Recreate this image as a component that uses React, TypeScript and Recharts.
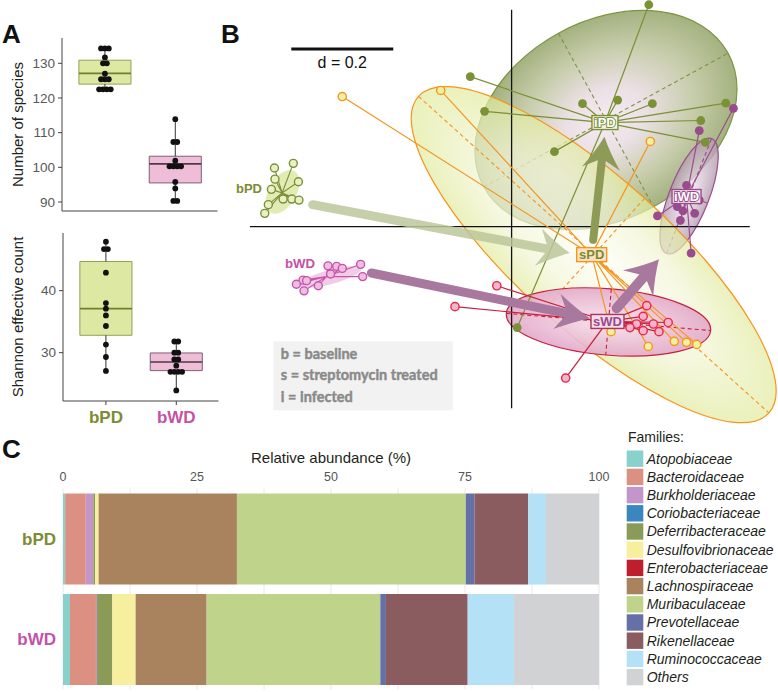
import React from 'react';
import {
  ComposedChart, ScatterChart, BarChart, Bar, Scatter, XAxis, YAxis,
  ReferenceArea, ReferenceLine, CartesianGrid, Legend,
} from 'recharts';

const SANS = '"Liberation Sans", Arial, Helvetica, sans-serif';
const HUMAN = 'Lato, "Open Sans", sans-serif';

// ---------------- Panel A data ----------------
const groupNames = ['bPD', 'bWD'];
const groupColors = ['#7b8c32', '#c452a8'];
const speciesPD = [134.3, 134.3, 134.3, 131.7, 130, 130, 127, 125.4, 125.4, 125.4, 122.5, 122.5, 122.5, 122.5];
const speciesWD = [113.9, 107.3, 107.3, 101.9, 100.3, 100.3, 100.3, 100.3, 95.8, 93.9, 90.3, 90.3];
const speciesQ1 = [124, 95.5];
const speciesMedian = [127.1, 101];
const speciesQ3 = [130.9, 103.2];
const speciesMin = [122.5, 90.3];
const speciesMax = [134.3, 113.9];
const speciesTicks = [90, 100, 110, 120, 130];

const shannonPD = [47.9, 46.7, 46.7, 42.9, 38.0, 37.1, 36.0, 34.3, 31.3, 29.3, 27.05];
const shannonWD = [31.8, 31.8, 30, 30, 28.9, 28.9, 27.9, 26.9, 26.9, 26.9, 26.9, 23.9];
const shannonQ1 = [32.8, 27.1];
const shannonMedian = [37.1, 28.5];
const shannonQ3 = [44.7, 29.95];
const shannonMin = [27.05, 23.9];
const shannonMax = [47.9, 31.8];
const shannonTicks = [30, 40];

// ---------------- Panel B data (ordination units, d = 0.2 grid) ----------------
type Pt = [number, number];
const iPDCentroid: Pt = [0.183, 0.204];
const iPDPoints: Pt[] = [[0.269, 0.435], [0.139, 0.241], [0.208, 0.248], [0.276, 0.241], [0.420, 0.242], [0.371, 0.208], [0.380, 0.165], [0.084, 0.147], [-0.081, 0.294], [-0.053, 0.226], [0.011, -0.198]];
const iWDCentroid: Pt = [0.343, 0.059];
const iWDPoints: Pt[] = [[0.435, 0.232], [0.368, 0.188], [0.343, 0.081], [0.286, 0.021], [0.325, 0.039], [0.336, 0.031], [0.359, 0.026], [0.331, 0.012], [0.352, -0.052], [0.368, 0.052]];
const sPDCentroid: Pt = [0.157, -0.055];
const sPDPoints: Pt[] = [[-0.332, 0.255], [-0.139, 0.267], [0.272, 0.167], [0.195, -0.206], [0.268, -0.235], [0.319, -0.225], [0.343, -0.227], [0.363, -0.231]];
const sWDCentroid: Pt = [0.188, -0.186];
const sWDPoints: Pt[] = [[-0.029, -0.116], [-0.111, -0.157], [0.106, -0.297], [0.265, -0.155], [0.258, -0.176], [0.245, -0.191], [0.232, -0.198], [0.258, -0.204], [0.278, -0.191], [0.289, -0.206], [0.307, -0.188]];
const bPDCentroid: Pt = [-0.450, 0.066];
const bPDPoints: Pt[] = [[-0.465, 0.115], [-0.428, 0.124], [-0.464, 0.093], [-0.418, 0.088], [-0.471, 0.073], [-0.448, 0.054], [-0.431, 0.054], [-0.417, 0.052], [-0.477, 0.043], [-0.484, 0.026]];
const bWDCentroid: Pt = [-0.363, -0.098];
const bWDPoints: Pt[] = [[-0.360, -0.077], [-0.343, -0.078], [-0.332, -0.082], [-0.296, -0.074], [-0.292, -0.098], [-0.355, -0.093], [-0.409, -0.105], [-0.402, -0.106], [-0.422, -0.113], [-0.407, -0.126], [-0.379, -0.116]];

// ellipses: centre x, centre y, semi-major, semi-minor, angle (deg)
const iPDEllipse = [0.185, 0.209, 0.273, 0.194, 28.7];
const iWDEllipse = [0.348, 0.060, 0.121, 0.039, 68.6];
const sPDEllipse = [0.161, -0.055, 0.463, 0.149, -42.1];
const sWDEllipse = [0.190, -0.187, 0.201, 0.065, -4.8];
const bPDEllipse = [-0.449, 0.068, 0.047, 0.027, 60];
const bWDEllipse = [-0.356, -0.099, 0.063, 0.014, 15];

// arrows: from (x, y) to (x1, y1)
const arrowBPDtoSPD = [-0.390, 0.043, 0.114, -0.052];
const arrowBWDtoSWD = [-0.275, -0.091, 0.154, -0.180];
const arrowSPDtoIPD = [0.160, -0.026, 0.182, 0.176];
const arrowSWDtoIWD = [0.206, -0.160, 0.289, -0.064];

const axisVertical: Pt[] = [[0, 0.425], [0, -0.356]];
const axisHorizontal: Pt[] = [[-0.513, 0], [0.467, 0]];
const scaleBar: Pt[] = [[-0.432, 0.348], [-0.232, 0.348]];
const scaleBarLabel = 'd = 0.2';
const bLabelPD: Pt = [-0.515, 0.076];
const bLabelWD: Pt = [-0.415, -0.071];
const notesAnchor: Pt = [-0.467, -0.225];
const notes = ['b = baseline', 's = streptomycin treated', 'i = infected'];

// ---------------- Panel C data ----------------
const families = ['Atopobiaceae', 'Bacteroidaceae', 'Burkholderiaceae', 'Coriobacteriaceae', 'Deferribacteraceae', 'Desulfovibrionaceae', 'Enterobacteriaceae', 'Lachnospiraceae', 'Muribaculaceae', 'Prevotellaceae', 'Rikenellaceae', 'Ruminococcaceae', 'Others'];
const familyColors = ['#88d1cd', '#dc9082', '#c495c8', '#3a87c0', '#8a9b58', '#f6f09e', '#be1e2d', '#a9825e', '#bfd48a', '#6470a6', '#8a5b5f', '#b4e1f6', '#d1d2d4'];
const abundancePD = [0.4, 3.85, 1.4, 0, 0.35, 0.65, 0, 25.8, 42.7, 1.6, 10.05, 3.3, 9.9];
const abundanceWD = [1.3, 4.85, 0.2, 0, 2.85, 4.35, 0, 13.25, 32.4, 1.05, 15.25, 8.65, 15.85];
const abundanceTicks = [0, 12.5, 25, 37.5, 50, 62.5, 75, 87.5, 100];

const abundanceRows = groupNames.map((g, i) => {
  const row: any = { name: g };
  const vals = i === 0 ? abundancePD : abundanceWD;
  families.forEach((f, j) => { row[f] = vals[j]; });
  return row;
});

// ---------------- helpers ----------------
const K = 510; // pixels per ordination unit

function swarm(values: number[], pos: number) {
  const counts: Record<string, number> = {};
  values.forEach((v) => { counts[v] = (counts[v] || 0) + 1; });
  const seen: Record<string, number> = {};
  return values.map((v) => {
    const n = counts[v];
    const i = (seen[v] = (seen[v] ?? -1) + 1);
    return { x: pos + (i - (n - 1) / 2) * 0.055, y: v };
  });
}

const toXY = (pts: Pt[]) => pts.map((p) => ({ x: p[0], y: p[1] }));
const spokes = (c: Pt, pts: Pt[]) => pts.flatMap((p) => [{ x: c[0], y: c[1] }, { x: p[0], y: p[1] }]);
const ellData = (e: number[]) => [{ x: e[0], y: e[1], a: e[2], b: e[3], angle: e[4] }];
const arrowData = (a: number[]) => [{ x: a[0], y: a[1], x1: a[2], y1: a[3] }];

const Nothing = () => <g />;

const dotShape = (r: number, fill: string, stroke?: string, sw = 0) => (p: any) => (
  <circle cx={p.cx} cy={p.cy} r={r} fill={fill} stroke={stroke ?? 'none'} strokeWidth={sw} />
);

const ellipseShape = (grad: string, stroke: string | null, fillOpacity: number, dash: boolean, sw = 1.2) => (p: any) => {
  const { cx, cy, payload } = p;
  const rx = payload.a * K;
  const ry = payload.b * K;
  return (
    <g transform={`rotate(${-payload.angle} ${cx} ${cy})`}>
      <ellipse cx={cx} cy={cy} rx={rx} ry={ry} fill={grad} fillOpacity={fillOpacity} stroke={stroke ?? 'none'} strokeWidth={sw} />
      {dash && stroke ? (
        <g stroke={stroke} strokeWidth={1.1} strokeDasharray="4 3">
          <line x1={cx - rx} y1={cy} x2={cx + rx} y2={cy} />
          <line x1={cx} y1={cy - ry} x2={cx} y2={cy + ry} />
        </g>
      ) : null}
    </g>
  );
};

const arrowShape = (color: string, shaftW: number, headL: number, headW: number, opacity = 1) => (p: any) => {
  const { cx, cy, payload } = p;
  const ex = cx + (payload.x1 - payload.x) * K;
  const ey = cy - (payload.y1 - payload.y) * K;
  const len = Math.hypot(ex - cx, ey - cy);
  const ux = (ex - cx) / len;
  const uy = (ey - cy) / len;
  const nx = -uy;
  const ny = ux;
  const bx = ex - ux * headL;
  const by = ey - uy * headL;
  const mx = ex - ux * headL * 0.68;
  const my = ey - uy * headL * 0.68;
  const h = headW / 2;
  const d = `M${ex},${ey} Q${ex - ux * headL * 0.45 + nx * h * 0.35},${ey - uy * headL * 0.45 + ny * h * 0.35} ${bx + nx * h},${by + ny * h} L${mx},${my} L${bx - nx * h},${by - ny * h} Q${ex - ux * headL * 0.45 - nx * h * 0.35},${ey - uy * headL * 0.45 - ny * h * 0.35} ${ex},${ey} Z`;
  return (
    <g opacity={opacity}>
      <line x1={cx} y1={cy} x2={mx} y2={my} stroke={color} strokeWidth={shaftW} strokeLinecap="round" />
      <path d={d} fill={color} />
    </g>
  );
};

const boxLabel = (text: string, w: number, textFill: string, textStroke: string | null, boxFill: string, boxStroke: string) => (p: any) => (
  <g>
    <rect x={p.cx - w / 2} y={p.cy - 7} width={w} height={14} fill={boxFill} stroke={boxStroke} strokeWidth={1.4} />
    <text x={p.cx} y={p.cy + 4.8} textAnchor="middle" fontSize={13} fontWeight="bold" fontFamily={SANS}
      fill={textFill} stroke={textStroke ?? 'none'} strokeWidth={textStroke ? 2 : 0} paintOrder="stroke" strokeLinejoin="round">{text}</text>
  </g>
);

const textShape = (text: string, color: string, size: number, bold: boolean, dy = 0) => (p: any) => (
  <text x={p.cx} y={p.cy + dy} textAnchor="middle" fontSize={size} fontWeight={bold ? 'bold' : 'normal'} fontFamily={SANS} fill={color}>{text}</text>
);

const notesShape = (p: any) => (
  <g>
    <rect x={p.cx} y={p.cy} width={179.4} height={69} fill="#f2f2f2" />
    {notes.map((t, i) => (
      <text key={t} x={p.cx + 7.4} y={p.cy + 17.3 + i * 21.7} fontSize={14.5} fontWeight="bold" fontFamily={HUMAN}
        fill="#8a8a8a" stroke="#8a8a8a" strokeWidth={0.45}>{t}</text>
    ))}
  </g>
);

// ---------------- Panel A component ----------------
function BoxPanel(props: any) {
  const { top, width, height, marginTop, xAxisHeight, yAxisWidth, domain, ticks, pd, wd, q1, med, q3, lo, hi, title, showLabels } = props;
  const pts = [...swarm(pd, 1), ...swarm(wd, 2)];
  const boxFill = ['#dde8a2', '#efbdd8'];
  const boxStroke = ['#93a150', '#7b6272'];
  const medStroke = ['#6f7f2e', '#4d3a47'];
  const hw = 0.37;
  const labelTick = (p: any) => (
    <text x={p.x} y={p.y + 16} textAnchor="middle" fontSize={17} fontWeight="bold" fontFamily={SANS} fill={groupColors[p.payload.value - 1]}>
      {groupNames[p.payload.value - 1]}
    </text>
  );
  return (
    <div style={{ position: 'absolute', left: 0, top }}>
      <ComposedChart width={width} height={height} margin={{ top: marginTop, right: width - yAxisWidth - 155.5, bottom: 0, left: 0 }}>
        <XAxis type="number" dataKey="x" domain={[0.39, 2.6]} ticks={[1, 2]} height={xAxisHeight}
          axisLine={{ stroke: '#444' }} tickLine={{ stroke: '#444' }} tickSize={4}
          tick={showLabels ? labelTick : false} interval={0} />
        <YAxis type="number" dataKey="y" domain={domain} ticks={ticks} width={yAxisWidth} interval={0}
          axisLine={{ stroke: '#444' }} tickLine={{ stroke: '#444' }} tickSize={4} tickMargin={3}
          tick={{ fontSize: 13.5, fill: '#595959', fontFamily: SANS }}
          label={{ value: title, angle: -90, position: 'center', dx: -13.5, fontSize: 15, fill: '#222', fontFamily: SANS }} />
        {[0, 1].map((i) => (
          <ReferenceArea key={`box${i}`} x1={i + 1 - hw} x2={i + 1 + hw} y1={q1[i]} y2={q3[i]}
            fill={boxFill[i]} fillOpacity={1} stroke={boxStroke[i]} strokeWidth={1} ifOverflow="visible" />
        ))}
        {[0, 1].map((i) => (
          <ReferenceLine key={`wl${i}`} segment={[{ x: i + 1, y: lo[i] }, { x: i + 1, y: q1[i] }]} stroke="#333" strokeWidth={1} ifOverflow="visible" />
        ))}
        {[0, 1].map((i) => (
          <ReferenceLine key={`wh${i}`} segment={[{ x: i + 1, y: q3[i] }, { x: i + 1, y: hi[i] }]} stroke="#333" strokeWidth={1} ifOverflow="visible" />
        ))}
        {[0, 1].map((i) => (
          <ReferenceLine key={`md${i}`} segment={[{ x: i + 1 - hw, y: med[i] }, { x: i + 1 + hw, y: med[i] }]} stroke={medStroke[i]} strokeWidth={1.6} ifOverflow="visible" />
        ))}
        <Scatter data={pts} isAnimationActive={false} shape={dotShape(2.9, '#111')} />
      </ComposedChart>
    </div>
  );
}

// ---------------- Panel C pieces ----------------
const SampleTick = (p: any) => {
  const idx = groupNames.indexOf(p.payload.value);
  return (
    <text x={p.x - 5} y={p.y + 6} textAnchor="end" fontSize={17} fontWeight="bold" fontFamily={SANS} fill={groupColors[idx]}>{p.payload.value}</text>
  );
};

const FamilyLegend = () => (
  <svg width={152} height={262} style={{ display: 'block' }}>
    <text x={2} y={12.5} fontSize={14} fontFamily={SANS} fill="#231f20">Families:</text>
    {families.map((f, i) => (
      <g key={f}>
        <rect x={0.7} y={21.5 + i * 18.2} width={16.6} height={16.4} fill={familyColors[i]} />
        <text x={20.7} y={34.6 + i * 18.2} fontSize={14} fontStyle="italic" fontFamily={SANS} fill="#231f20">{f}</text>
      </g>
    ))}
  </svg>
);

// ---------------- App ----------------
export default function App() {
  return (
    <div style={{ position: 'absolute', left: 0, top: 0, width: 778, height: 692, overflow: 'hidden', background: '#fff', fontFamily: SANS }}>
      {/* Panel A */}
      <BoxPanel top={0} width={230} height={230} marginTop={38} xAxisHeight={19} yAxisWidth={62}
        domain={[87.4, 137.3]} ticks={speciesTicks} pd={speciesPD} wd={speciesWD}
        q1={speciesQ1} med={speciesMedian} q3={speciesQ3} lo={speciesMin} hi={speciesMax}
        title="Number of species" showLabels={false} />
      <BoxPanel top={225} width={232} height={225} marginTop={8} xAxisHeight={49} yAxisWidth={63}
        domain={[22.2, 49.3]} ticks={shannonTicks} pd={shannonPD} wd={shannonWD}
        q1={shannonQ1} med={shannonMedian} q3={shannonQ3} lo={shannonMin} hi={shannonMax}
        title="Shannon effective count" showLabels={true} />

      {/* Panel B */}
      <div style={{ position: 'absolute', left: 226.1, top: -7.9 }}>
        <ScatterChart width={561} height={448.8} margin={{ top: 0, right: 0, bottom: 0, left: 0 }}>
          <defs>
            <radialGradient id="gIPD" cx="50%" cy="50%" r="50%">
              <stop offset="0%" stopColor="#f8ebf5" />
              <stop offset="30%" stopColor="#ebe0e5" />
              <stop offset="65%" stopColor="#c9ceae" />
              <stop offset="100%" stopColor="#a3b27f" />
            </radialGradient>
            <radialGradient id="gIWD" cx="50%" cy="50%" r="50%">
              <stop offset="0%" stopColor="#f4ecf2" />
              <stop offset="100%" stopColor="#b39aae" />
            </radialGradient>
            <radialGradient id="gSPD" cx="50%" cy="50%" r="50%">
              <stop offset="0%" stopColor="#fdfdf6" />
              <stop offset="60%" stopColor="#f1f5d3" />
              <stop offset="100%" stopColor="#e1eb9e" />
            </radialGradient>
            <radialGradient id="gSWD" cx="50%" cy="50%" r="50%">
              <stop offset="0%" stopColor="#f8e3ef" />
              <stop offset="100%" stopColor="#e3a9c9" />
            </radialGradient>
          </defs>
          <XAxis type="number" dataKey="x" domain={[-0.56, 0.54]} hide />
          <YAxis type="number" dataKey="y" domain={[-0.42, 0.46]} hide />

          <Scatter data={ellData(iPDEllipse)} isAnimationActive={false} shape={ellipseShape('url(#gIPD)', '#7d9443', 1, true)} />
          <Scatter data={ellData(iWDEllipse)} isAnimationActive={false} shape={ellipseShape('url(#gIWD)', '#9b4d8e', 0.8, true)} />
          <Scatter data={ellData(sPDEllipse)} isAnimationActive={false} shape={ellipseShape('url(#gSPD)', '#f7941d', 0.7, true)} />
          <Scatter data={ellData(sWDEllipse)} isAnimationActive={false} shape={ellipseShape('url(#gSWD)', '#c4203f', 0.9, true)} />
          <Scatter data={ellData(bPDEllipse)} isAnimationActive={false} shape={ellipseShape('#d6e59a', null, 0.75, false)} />
          <Scatter data={ellData(bWDEllipse)} isAnimationActive={false} shape={ellipseShape('#efbfe0', null, 0.8, false)} />

          <Scatter data={toXY(axisVertical)} isAnimationActive={false} shape={Nothing} line={{ stroke: '#111', strokeWidth: 1.3 }} />
          <Scatter data={toXY(axisHorizontal)} isAnimationActive={false} shape={Nothing} line={{ stroke: '#111', strokeWidth: 1.3 }} />
          <Scatter data={toXY(scaleBar)} isAnimationActive={false} shape={Nothing} line={{ stroke: '#111', strokeWidth: 3 }} />
          <Scatter data={[{ x: (scaleBar[0][0] + scaleBar[1][0]) / 2, y: scaleBar[0][1] }]} isAnimationActive={false} shape={textShape(scaleBarLabel, '#111', 16, false, 19)} />

          <Scatter data={spokes(iPDCentroid, iPDPoints)} isAnimationActive={false} shape={Nothing} line={{ stroke: '#7a9136', strokeWidth: 1.2 }} />
          <Scatter data={spokes(iWDCentroid, iWDPoints)} isAnimationActive={false} shape={Nothing} line={{ stroke: '#9b4d8e', strokeWidth: 1.2 }} />
          <Scatter data={spokes(sPDCentroid, sPDPoints)} isAnimationActive={false} shape={Nothing} line={{ stroke: '#f7941d', strokeWidth: 1.2 }} />
          <Scatter data={spokes(sWDCentroid, sWDPoints)} isAnimationActive={false} shape={Nothing} line={{ stroke: '#c81e3c', strokeWidth: 1.2 }} />
          <Scatter data={spokes(bPDCentroid, bPDPoints)} isAnimationActive={false} shape={Nothing} line={{ stroke: '#7a8f3a', strokeWidth: 1.1 }} />
          <Scatter data={spokes(bWDCentroid, bWDPoints)} isAnimationActive={false} shape={Nothing} line={{ stroke: '#c455aa', strokeWidth: 1.1 }} />

          <Scatter data={toXY(iPDPoints)} isAnimationActive={false} shape={dotShape(4.4, '#7a9136')} />
          <Scatter data={toXY(iWDPoints)} isAnimationActive={false} shape={dotShape(4.4, '#9a4b8d')} />
          <Scatter data={toXY(sPDPoints)} isAnimationActive={false} shape={dotShape(4.1, '#eef29e', '#f7941d', 1.4)} />
          <Scatter data={toXY(sWDPoints)} isAnimationActive={false} shape={dotShape(4.1, '#f4b4d0', '#e52843', 1.4)} />
          <Scatter data={toXY(bPDPoints)} isAnimationActive={false} shape={dotShape(4, '#e9f1c2', '#7a8f3a', 1.4)} />
          <Scatter data={toXY(bWDPoints)} isAnimationActive={false} shape={dotShape(4, '#f1bde1', '#c455aa', 1.4)} />

          <Scatter data={arrowData(arrowBPDtoSPD)} isAnimationActive={false} shape={arrowShape('#bcc79b', 9, 32, 38, 0.85)} />
          <Scatter data={arrowData(arrowBWDtoSWD)} isAnimationActive={false} shape={arrowShape('#a8789f', 9, 34, 36, 1)} />
          <Scatter data={arrowData(arrowSPDtoIPD)} isAnimationActive={false} shape={arrowShape('#8d9b57', 8, 32, 38, 1)} />
          <Scatter data={arrowData(arrowSWDtoIWD)} isAnimationActive={false} shape={arrowShape('#a8789f', 10, 32, 40, 1)} />

          <Scatter data={[{ x: iPDCentroid[0], y: iPDCentroid[1] }]} isAnimationActive={false} shape={boxLabel('iPD', 26, '#ffffff', '#7a9136', '#f3f2ea', '#7a9136')} />
          <Scatter data={[{ x: iWDCentroid[0], y: iWDCentroid[1] }]} isAnimationActive={false} shape={boxLabel('iWD', 29, '#ffffff', '#9a4b8d', '#f3eaf0', '#9a4b8d')} />
          <Scatter data={[{ x: sPDCentroid[0], y: sPDCentroid[1] }]} isAnimationActive={false} shape={boxLabel('sPD', 30, '#7a8a30', null, '#fde3c4', '#f7941d')} />
          <Scatter data={[{ x: sWDCentroid[0], y: sWDCentroid[1] }]} isAnimationActive={false} shape={boxLabel('sWD', 33, '#9a4b8d', null, '#f6dbe8', '#a8365e')} />
          <Scatter data={[{ x: bLabelPD[0], y: bLabelPD[1] }]} isAnimationActive={false} shape={textShape('bPD', '#7a8c34', 13, true, 4.7)} />
          <Scatter data={[{ x: bLabelWD[0], y: bLabelWD[1] }]} isAnimationActive={false} shape={textShape('bWD', '#c452a8', 13.2, true, 4.7)} />
          <Scatter data={[{ x: notesAnchor[0], y: notesAnchor[1] }]} isAnimationActive={false} shape={notesShape} />
        </ScatterChart>
      </div>

      {/* Panel C */}
      <div style={{ position: 'absolute', left: 0, top: 430 }}>
        <BarChart layout="vertical" width={778} height={262} data={abundanceRows}
          margin={{ top: 28.5, right: 179, bottom: 2.5, left: 0 }} barSize={91}>
          <CartesianGrid horizontal={false} stroke="#e8e8e8" />
          <XAxis type="number" orientation="top" domain={[0, 100]} ticks={abundanceTicks} interval={0}
            tickFormatter={(v: number) => (v % 25 === 0 ? String(v) : '')}
            axisLine={false} tickLine={false} tickSize={0} tickMargin={8} height={30}
            tick={{ fontSize: 12.5, fill: '#555', fontFamily: SANS }}
            label={{ value: 'Relative abundance (%)', position: 'top', offset: -4, fontSize: 15, fill: '#231f20', fontFamily: SANS }} />
          <YAxis type="category" dataKey="name" width={63} axisLine={false} tickLine={false} tickSize={0} tick={<SampleTick />} />
          {families.map((f, i) => (
            <Bar key={f} dataKey={f} stackId="a" fill={familyColors[i]} isAnimationActive={false} />
          ))}
          <Legend layout="vertical" align="center" verticalAlign="middle"
            wrapperStyle={{ left: 626, top: -1, width: 152, height: 262 }} content={() => <FamilyLegend />} />
        </BarChart>
      </div>

      {/* panel letters */}
      <svg width={778} height={692} style={{ position: 'absolute', left: 0, top: 0, pointerEvents: 'none' }}>
        <text x={2} y={43} fontSize={26} fontWeight="bold" fontFamily={SANS} fill="#111">A</text>
        <text x={221} y={43} fontSize={26} fontWeight="bold" fontFamily={SANS} fill="#111">B</text>
        <text x={2} y={458} fontSize={26} fontWeight="bold" fontFamily={SANS} fill="#111">C</text>
      </svg>
    </div>
  );
}
